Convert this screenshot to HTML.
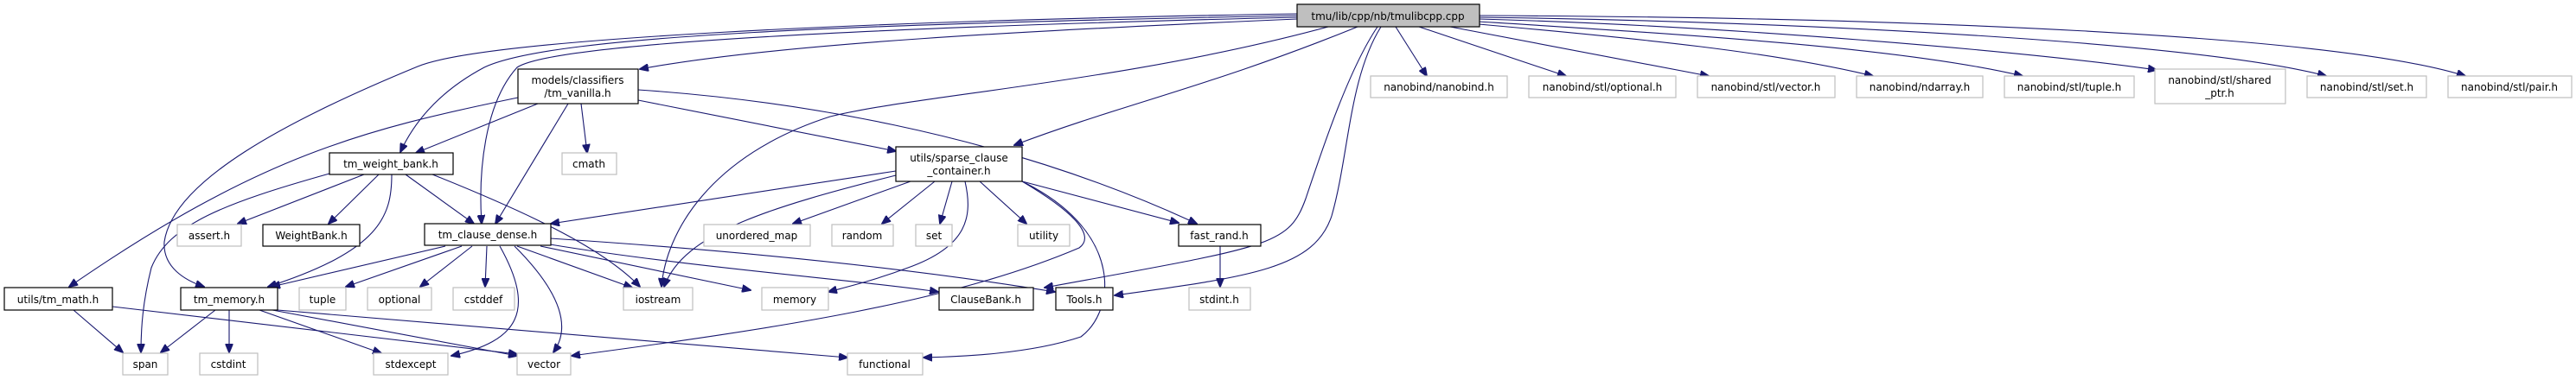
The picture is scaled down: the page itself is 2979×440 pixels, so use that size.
<!DOCTYPE html>
<html><head><meta charset="utf-8"><style>
html,body{margin:0;padding:0;background:#fff;}
svg{display:block;}
text{font-family:"DejaVu Sans","Liberation Sans",sans-serif;font-size:12px;fill:#000;}
.e{fill:none;stroke:#191970;stroke-width:1.1;}
.n{fill:#fff;stroke:#000;stroke-width:1.2;}
.g{fill:#fff;stroke:#bfbfbf;stroke-width:1.2;}
</style></head><body>
<svg width="2979" height="440" viewBox="0 0 2979 440" xmlns="http://www.w3.org/2000/svg">
<defs><marker id="a" markerWidth="11" markerHeight="9" refX="10" refY="4.5" orient="auto" markerUnits="userSpaceOnUse"><path d="M0,0 L11,4.5 L0,9 z" fill="#191970" stroke="#191970"/></marker></defs>
<g class="e" marker-end="url(#a)">
<path d="M1500,22 C1200,35 900,50 740,80"/>
<path d="M1500,18 C1000,28 640,40 560,78 C500,110 475,150 463,176"/>
<path d="M1500,20 C1000,32 640,50 598,78 C560,120 553,200 557,259"/>
<path d="M1500,16 C1000,24 560,45 483,77 C330,140 200,210 190,280 C188,310 215,325 236,332"/>
<path d="M1570,31 C1400,100 1300,120 1173,168"/>
<path d="M1536,31 C1300,95 1060,110 960,135 C820,180 770,270 765,332"/>
<path d="M1593,31 C1560,80 1530,170 1510,230 C1490,285 1470,285 1208,333"/>
<path d="M1597,31 C1560,90 1560,180 1540,250 C1520,310 1450,320 1289,342"/>
<path d="M1614,31 L1650,88"/>
<path d="M1641,31 L1811,88"/>
<path d="M1677,31 L1976,88"/>
<path d="M1710,28 C1900,45 2050,60 2166,88"/>
<path d="M1710,25 C1950,40 2200,55 2339,88"/>
<path d="M1710,22 C2000,30 2350,60 2494,81"/>
<path d="M1710,20 C2100,25 2550,50 2690,88"/>
<path d="M1710,18 C2200,20 2700,40 2851,88"/>
<path d="M622,120 L481,177"/>
<path d="M657,120 L573,259"/>
<path d="M672,120 L679,177"/>
<path d="M599,113 C420,150 300,180 80,332"/>
<path d="M738,104 C900,115 1150,150 1384,259"/>
<path d="M738,116 L1036,175"/>
<path d="M421,202 L275,259"/>
<path d="M438,202 L380,259"/>
<path d="M469,202 L548,259"/>
<path d="M500,202 C620,250 700,290 740,332"/>
<path d="M453,202 C453,250 440,290 310,332"/>
<path d="M381,201 C260,235 195,260 175,310 C165,350 163,380 163,408"/>
<path d="M515,285 L314,332"/>
<path d="M534,285 L400,332"/>
<path d="M546,285 L486,332"/>
<path d="M563,285 L561,332"/>
<path d="M578,285 C620,360 600,395 522,412"/>
<path d="M595,285 C650,340 660,380 640,408"/>
<path d="M598,285 L731,333"/>
<path d="M625,285 L868,336"/>
<path d="M636,283 C800,310 1000,325 1085,338"/>
<path d="M636,276 C850,290 1050,310 1220,338"/>
<path d="M249,359 L186,408"/>
<path d="M265,359 L265,408"/>
<path d="M300,359 L441,409"/>
<path d="M315,359 L598,412"/>
<path d="M321,359 L980,414"/>
<path d="M85,359 L142,408"/>
<path d="M130,355 L598,410"/>
<path d="M1036,198 L637,259"/>
<path d="M1036,203 C890,240 790,270 768,332"/>
<path d="M1053,210 L917,259"/>
<path d="M1081,210 L1020,259"/>
<path d="M1101,210 L1087,259"/>
<path d="M1133,210 L1187,259"/>
<path d="M1182,210 L1363,258"/>
<path d="M1116,210 C1125,250 1120,285 1050,310 C1010,325 980,332 958,338"/>
<path d="M1182,210 C1250,250 1265,275 1248,287 C1100,350 900,380 661,412"/>
<path d="M1186,212 C1300,270 1290,360 1250,390 C1190,410 1110,413 1068,414"/>
<path d="M1411,285 L1411,332"/>
</g>
<rect x="1500" y="5" width="211" height="26" fill="#bfbfbf" stroke="#000" stroke-width="1.2"/><text x="1605" y="23" text-anchor="middle">tmu/lib/cpp/nb/tmulibcpp.cpp</text>
<rect class="n" x="599" y="80" width="139" height="40"/><text x="668" y="97" text-anchor="middle">models/classifiers</text><text x="668" y="112" text-anchor="middle">/tm_vanilla.h</text>
<rect class="n" x="381" y="177" width="143" height="25"/><text x="452" y="194" text-anchor="middle">tm_weight_bank.h</text>
<rect class="g" x="650" y="177" width="63" height="25"/><text x="681" y="194" text-anchor="middle">cmath</text>
<rect class="n" x="1036" y="170" width="146" height="40"/><text x="1109" y="187" text-anchor="middle">utils/sparse_clause</text><text x="1109" y="202" text-anchor="middle">_container.h</text>
<rect class="g" x="205" y="260" width="74" height="25"/><text x="242" y="277" text-anchor="middle">assert.h</text>
<rect class="n" x="304" y="260" width="112" height="25"/><text x="360" y="277" text-anchor="middle">WeightBank.h</text>
<rect class="n" x="491" y="259" width="146" height="25"/><text x="564" y="276" text-anchor="middle">tm_clause_dense.h</text>
<rect class="g" x="814" y="260" width="123" height="25"/><text x="875" y="277" text-anchor="middle">unordered_map</text>
<rect class="g" x="962" y="260" width="71" height="25"/><text x="997" y="277" text-anchor="middle">random</text>
<rect class="g" x="1059" y="260" width="42" height="25"/><text x="1080" y="277" text-anchor="middle">set</text>
<rect class="g" x="1177" y="260" width="60" height="25"/><text x="1207" y="277" text-anchor="middle">utility</text>
<rect class="n" x="1363" y="260" width="95" height="25"/><text x="1410" y="277" text-anchor="middle">fast_rand.h</text>
<rect class="n" x="5" y="333" width="125" height="26"/><text x="67" y="351" text-anchor="middle">utils/tm_math.h</text>
<rect class="n" x="209" y="333" width="112" height="26"/><text x="265" y="351" text-anchor="middle">tm_memory.h</text>
<rect class="g" x="346" y="333" width="54" height="26"/><text x="373" y="351" text-anchor="middle">tuple</text>
<rect class="g" x="425" y="333" width="74" height="26"/><text x="462" y="351" text-anchor="middle">optional</text>
<rect class="g" x="524" y="333" width="71" height="26"/><text x="559" y="351" text-anchor="middle">cstddef</text>
<rect class="g" x="721" y="333" width="80" height="26"/><text x="761" y="351" text-anchor="middle">iostream</text>
<rect class="g" x="881" y="333" width="77" height="26"/><text x="919" y="351" text-anchor="middle">memory</text>
<rect class="n" x="1086" y="333" width="109" height="26"/><text x="1140" y="351" text-anchor="middle">ClauseBank.h</text>
<rect class="n" x="1221" y="333" width="66" height="26"/><text x="1254" y="351" text-anchor="middle">Tools.h</text>
<rect class="g" x="1375" y="333" width="71" height="26"/><text x="1410" y="351" text-anchor="middle">stdint.h</text>
<rect class="g" x="142" y="409" width="52" height="25"/><text x="168" y="426" text-anchor="middle">span</text>
<rect class="g" x="231" y="409" width="67" height="25"/><text x="264" y="426" text-anchor="middle">cstdint</text>
<rect class="g" x="432" y="409" width="86" height="25"/><text x="475" y="426" text-anchor="middle">stdexcept</text>
<rect class="g" x="598" y="409" width="62" height="25"/><text x="629" y="426" text-anchor="middle">vector</text>
<rect class="g" x="980" y="409" width="87" height="25"/><text x="1023" y="426" text-anchor="middle">functional</text>
<rect class="g" x="1585" y="88" width="158" height="25"/><text x="1664" y="105" text-anchor="middle">nanobind/nanobind.h</text>
<rect class="g" x="1768" y="88" width="170" height="25"/><text x="1853" y="105" text-anchor="middle">nanobind/stl/optional.h</text>
<rect class="g" x="1963" y="88" width="159" height="25"/><text x="2042" y="105" text-anchor="middle">nanobind/stl/vector.h</text>
<rect class="g" x="2147" y="88" width="146" height="25"/><text x="2220" y="105" text-anchor="middle">nanobind/ndarray.h</text>
<rect class="g" x="2318" y="88" width="150" height="25"/><text x="2393" y="105" text-anchor="middle">nanobind/stl/tuple.h</text>
<rect class="g" x="2492" y="80" width="151" height="40"/><text x="2567" y="97" text-anchor="middle">nanobind/stl/shared</text><text x="2567" y="112" text-anchor="middle">_ptr.h</text>
<rect class="g" x="2668" y="88" width="138" height="25"/><text x="2737" y="105" text-anchor="middle">nanobind/stl/set.h</text>
<rect class="g" x="2831" y="88" width="143" height="25"/><text x="2902" y="105" text-anchor="middle">nanobind/stl/pair.h</text>
</svg>
</body></html>
